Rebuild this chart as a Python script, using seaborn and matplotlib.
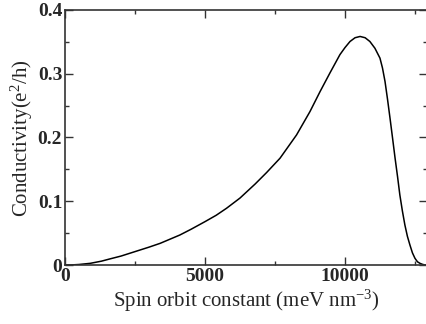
import matplotlib
matplotlib.use("Agg")
import matplotlib.pyplot as plt
import seaborn as sns
import pandas as pd
from matplotlib.ticker import MultipleLocator

spin_orbit = [0, 180, 500, 900, 1300, 1600, 2000, 2500, 3000, 3400, 4100,
              4500, 5000, 5400, 5770, 6250, 6790, 7200, 7680, 8270, 8750,
              9110, 9460, 9820, 10000, 10180, 10360, 10540, 10720, 10890,
              11070, 11250, 11340, 11430, 11520, 11610, 11700, 11790, 11880,
              11960, 12050, 12140, 12230, 12320, 12410, 12500, 12590, 12680,
              12770, 12860, 12930]
conductivity = [0, 0, 0.0008, 0.0026, 0.006, 0.0095, 0.014, 0.021, 0.028,
                0.034, 0.047, 0.056, 0.068, 0.078, 0.089, 0.105, 0.127,
                0.145, 0.1675, 0.204, 0.2407, 0.272, 0.301, 0.330, 0.341,
                0.3506, 0.3565, 0.3585, 0.3565, 0.3506, 0.340, 0.3245, 0.309,
                0.288, 0.260, 0.230, 0.199, 0.1675, 0.138, 0.110, 0.085,
                0.0628, 0.045, 0.0314, 0.019, 0.0105, 0.005, 0.0026, 0.001,
                0, 0]

df = pd.DataFrame({"x": spin_orbit, "y": conductivity})

sns.set_theme(style="ticks")
plt.rcParams["font.family"] = ["Liberation Serif", "DejaVu Serif"]
plt.rcParams["mathtext.fontset"] = "custom"
plt.rcParams["mathtext.rm"] = "Liberation Serif"
plt.rcParams["mathtext.it"] = "Liberation Serif:italic"

fig = plt.figure(figsize=(4.27, 3.24), dpi=100)
ax = fig.add_axes([65/427, 59/324, 362/427, 255/324])

sns.lineplot(data=df, x="x", y="y", ax=ax, color="black", linewidth=1.1)

ax.set_xlim(0, 12930)
ax.set_ylim(0, 0.4)
ax.xaxis.set_major_locator(MultipleLocator(5000))
ax.xaxis.set_minor_locator(MultipleLocator(2500))
ax.yaxis.set_major_locator(MultipleLocator(0.1))
ax.yaxis.set_minor_locator(MultipleLocator(0.05))
ax.xaxis.set_major_formatter(plt.FuncFormatter(lambda v, p: f"{v:.0f}"))
ax.yaxis.set_major_formatter(plt.FuncFormatter(lambda v, p: "0" if v == 0 else f"{v:.1f}"))

ax.tick_params(which="both", direction="in", top=True, right=True, color="#333333")
ax.tick_params(which="major", length=6, width=1.0, labelsize=14, pad=2)
ax.tick_params(which="minor", length=3, width=1.0)
for lab in ax.get_xticklabels() + ax.get_yticklabels():
    lab.set_fontweight("bold")
for s in ax.spines.values():
    s.set_linewidth(1.2)
    s.set_color("#333333")

ax.set_xlabel("Spin orbit constant (meV nm$^{-3}$)", fontsize=15, labelpad=2)
ax.set_ylabel("Conductivity(e$^2$/h)", fontsize=15)
ax.yaxis.set_label_coords(-0.083, 0.496)

fig.savefig("out.png", dpi=100)
